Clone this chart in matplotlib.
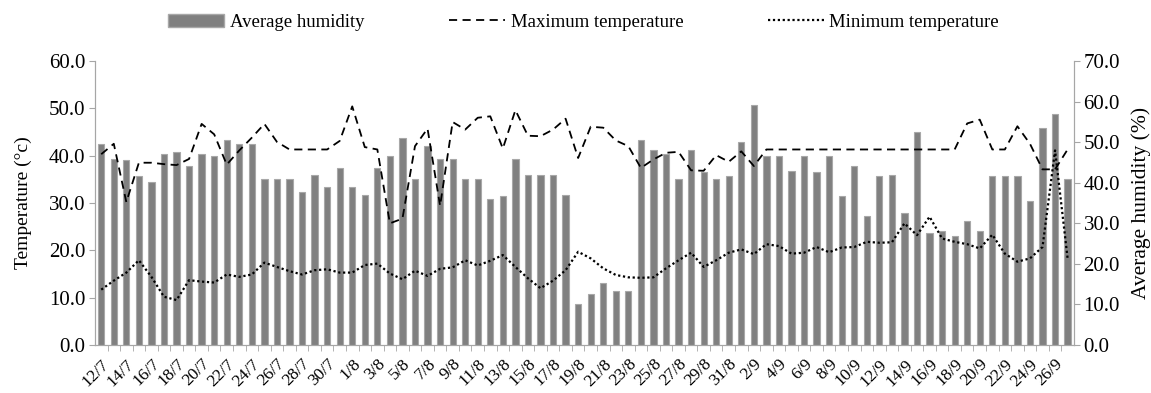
import numpy as np
import matplotlib.pyplot as plt
from matplotlib.patches import Patch
from matplotlib.lines import Line2D

plt.rcParams['font.family'] = ['Liberation Serif', 'DejaVu Serif']

# daily dates 12/7 - 27/9
dates = (["%d/7" % d for d in range(12, 32)] +
         ["%d/8" % d for d in range(1, 32)] +
         ["%d/9" % d for d in range(1, 28)])

# average humidity (%)
humidity = [49.5, 45.9, 45.5, 41.6, 40.1, 47.0, 47.6, 44.1, 47.0, 46.6,
            50.5, 49.5, 49.5, 40.9, 40.9, 40.9, 37.6, 42.0, 39.0, 43.5,
            39.0, 36.9, 43.5, 46.6, 50.9, 40.9, 49.1, 45.9, 45.9, 40.9,
            40.9, 35.9, 36.6, 45.9, 42.0, 42.0, 42.0, 37.0, 10.0, 12.6,
            15.4, 13.4, 13.4, 50.5, 48.1, 47.1, 40.9, 48.1, 42.6, 40.9,
            41.6, 50.0, 59.1, 46.6, 46.6, 43.0, 46.6, 42.6, 46.6, 36.6,
            44.1, 31.9, 41.6, 42.0, 32.6, 52.4, 27.6, 28.0, 26.9, 30.5,
            28.0, 41.6, 41.6, 41.6, 35.5, 53.5, 57.0, 40.9]

# maximum temperature (C)
t_max = [40.3, 42.5, 30.2, 38.5, 38.5, 38.2, 38.0, 39.3, 46.7, 44.5,
         38.1, 41.1, 43.8, 46.7, 42.9, 41.3, 41.3, 41.3, 41.3, 43.1,
         50.4, 41.8, 41.3, 25.7, 26.7, 42.0, 45.7, 29.4, 47.1, 45.5,
         48.0, 48.3, 41.5, 49.6, 44.2, 44.1, 45.5, 47.8, 39.5, 46.1,
         45.9, 43.2, 42.0, 37.4, 39.2, 40.6, 40.8, 36.9, 36.8, 40.1,
         38.7, 40.9, 37.8, 41.3, 41.3, 41.3, 41.3, 41.3, 41.3, 41.3,
         41.3, 41.3, 41.3, 41.3, 41.3, 41.3, 41.3, 41.3, 41.3, 46.8,
         47.6, 41.3, 41.3, 46.2, 42.5, 37.1, 37.1, 41.3]

# minimum temperature (C)
t_min = [11.7, 13.6, 15.3, 17.9, 14.4, 10.2, 9.5, 13.7, 13.4, 13.2,
         14.9, 14.4, 14.9, 17.4, 16.5, 15.6, 14.9, 15.8, 16.0, 15.3,
         15.3, 16.9, 17.2, 15.1, 13.9, 15.7, 14.6, 16.1, 16.4, 17.9,
         16.8, 17.8, 19.0, 16.5, 14.1, 12.0, 13.6, 15.8, 19.7, 18.3,
         16.2, 14.8, 14.3, 14.2, 14.3, 16.2, 17.9, 19.5, 16.5, 17.9,
         19.5, 20.2, 19.2, 21.3, 20.9, 19.3, 19.5, 20.7, 19.6, 20.6,
         20.7, 21.8, 21.6, 21.7, 25.7, 23.2, 27.1, 22.5, 21.8, 21.3,
         20.4, 23.3, 19.3, 17.6, 18.3, 20.7, 41.1, 18.3]

x = np.arange(len(dates))
axis_col = '#a6a6a6'

fig, ax = plt.subplots(figsize=(11.51, 3.93), dpi=100)
fig.subplots_adjust(left=0.0825, right=0.933, bottom=0.122, top=0.845)
ax2 = ax.twinx()

# bars on the humidity axis, lines drawn above them
ax2.bar(x, humidity, width=0.5, color='#808080', edgecolor='#a8a8a8', linewidth=0.8)
ax.set_zorder(ax2.get_zorder() + 1)
ax.patch.set_visible(False)

ax.plot(x, t_max, color='black', lw=1.3, ls=(0, (4.5, 3)))
ax.plot(x, t_min, color='black', lw=1.6, ls=(0, (1, 1.2)))

ax.set_xlim(-0.5, len(dates) - 0.5)
ax.set_ylim(0, 60)
ax2.set_ylim(0, 70)
ax.set_yticks(np.arange(0, 61, 10))
ax2.set_yticks(np.arange(0, 71, 10))
ax.set_yticklabels(["%.1f" % v for v in np.arange(0, 61, 10)], fontsize=15)
ax2.set_yticklabels(["%.1f" % v for v in np.arange(0, 71, 10)], fontsize=15)

ax.set_xticks(x[::2])
ax.set_xticklabels(dates[::2], rotation=45, ha='right', rotation_mode='anchor', fontsize=12.5)
ax.set_xticks(x[:-1] + 0.5, minor=True)
ax.tick_params(axis='x', which='major', length=0, pad=8)
ax.tick_params(axis='x', which='minor', length=4, color=axis_col)
ax.tick_params(axis='y', length=4, color=axis_col, pad=3)
ax2.tick_params(axis='y', length=4, color=axis_col, pad=3)

for a in (ax, ax2):
    a.spines['top'].set_visible(False)
    for s in ('left', 'right', 'bottom'):
        a.spines[s].set_color(axis_col)

ax.set_ylabel('Temperature (°c)', fontsize=14, labelpad=12)
ax2.set_ylabel('Average humidity (%)', fontsize=15.5, labelpad=8)

handles = [Patch(facecolor='#808080', edgecolor='#a8a8a8'),
           Line2D([], [], color='black', lw=1.3, ls=(0, (4.5, 3))),
           Line2D([], [], color='black', lw=1.6, ls=(0, (1, 1.2)))]
labels = ['Average humidity', 'Maximum temperature', 'Minimum temperature']
fig.legend(handles, labels, loc='upper center', bbox_to_anchor=(0.507, 1.008), ncol=3,
           frameon=False, fontsize=13.5, columnspacing=4.5, handlelength=3.0, handletextpad=0.3)

fig.savefig('out.png', dpi=100)
